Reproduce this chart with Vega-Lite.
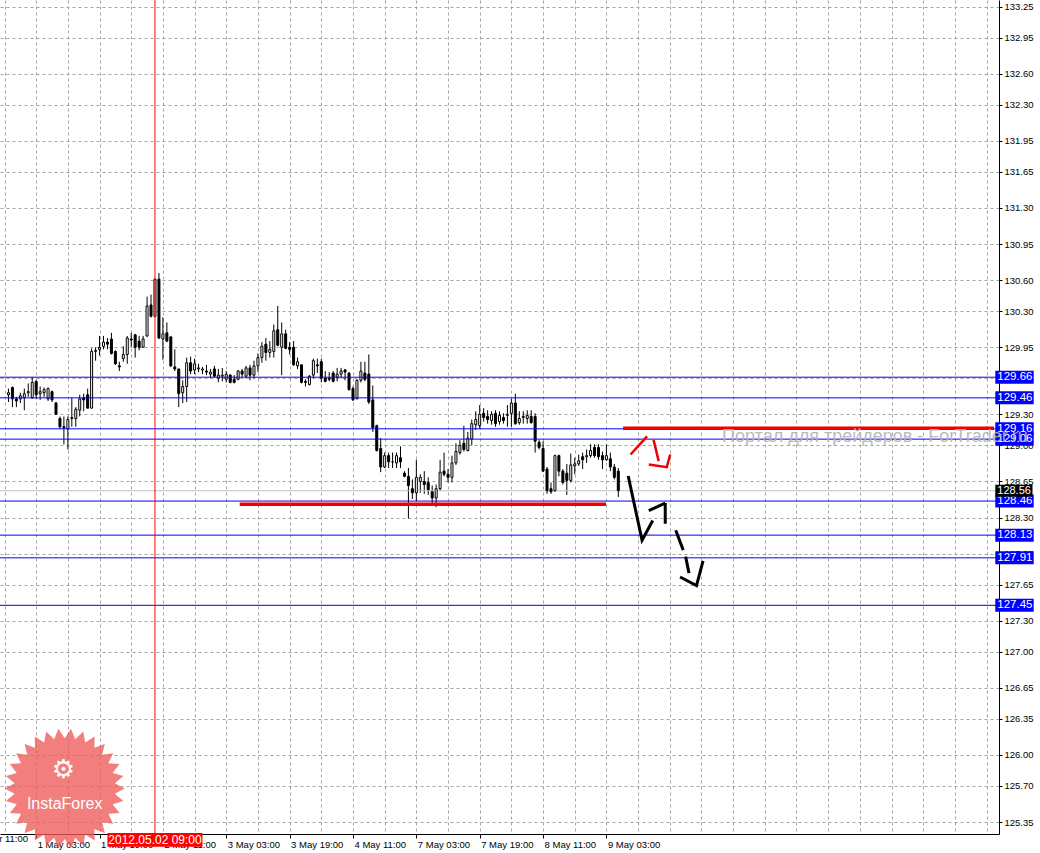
{
  "$schema": "https://vega.github.io/schema/vega-lite/v6.json",
  "width": 999,
  "height": 834,
  "autosize": {"type": "none"},
  "padding": {"left": 0, "top": 0, "right": 41, "bottom": 19},
  "background": "#ffffff",
  "config": {"view": {"stroke": null}},
  "datasets": {
    "candles": [
      {"i":-7,"o":129.49,"h":129.55,"l":129.42,"c":129.51},
      {"i":-6,"o":129.56,"h":129.57,"l":129.37,"c":129.45},
      {"i":-5,"o":129.45,"h":129.47,"l":129.37,"c":129.43},
      {"i":-4,"o":129.45,"h":129.51,"l":129.41,"c":129.48},
      {"i":-3,"o":129.46,"h":129.55,"l":129.34,"c":129.50},
      {"i":-2,"o":129.51,"h":129.60,"l":129.47,"c":129.52},
      {"i":-1,"o":129.46,"h":129.66,"l":129.45,"c":129.61},
      {"i":0,"o":129.62,"h":129.63,"l":129.45,"c":129.49},
      {"i":1,"o":129.50,"h":129.57,"l":129.44,"c":129.52},
      {"i":2,"o":129.51,"h":129.56,"l":129.47,"c":129.54},
      {"i":3,"o":129.45,"h":129.56,"l":129.43,"c":129.55},
      {"i":4,"o":129.52,"h":129.53,"l":129.42,"c":129.44},
      {"i":5,"o":129.41,"h":129.42,"l":129.30,"c":129.30},
      {"i":6,"o":129.26,"h":129.28,"l":129.16,"c":129.18},
      {"i":7,"o":129.18,"h":129.28,"l":129.01,"c":129.17},
      {"i":8,"o":129.16,"h":129.28,"l":128.96,"c":129.25},
      {"i":9,"o":129.26,"h":129.46,"l":129.18,"c":129.27},
      {"i":10,"o":129.26,"h":129.37,"l":129.18,"c":129.35},
      {"i":11,"o":129.34,"h":129.49,"l":129.28,"c":129.45},
      {"i":12,"o":129.46,"h":129.50,"l":129.33,"c":129.44},
      {"i":13,"o":129.49,"h":129.55,"l":129.36,"c":129.36},
      {"i":14,"o":129.36,"h":129.94,"l":129.36,"c":129.91},
      {"i":15,"o":129.91,"h":129.95,"l":129.82,"c":129.92},
      {"i":16,"o":129.93,"h":130.06,"l":129.87,"c":129.95},
      {"i":17,"o":129.96,"h":130.06,"l":129.93,"c":130.00},
      {"i":18,"o":130.00,"h":130.04,"l":129.93,"c":129.98},
      {"i":19,"o":130.03,"h":130.09,"l":129.88,"c":129.89},
      {"i":20,"o":129.91,"h":129.92,"l":129.78,"c":129.79},
      {"i":21,"o":129.77,"h":129.81,"l":129.72,"c":129.76},
      {"i":22,"o":129.84,"h":129.96,"l":129.81,"c":129.88},
      {"i":23,"o":129.88,"h":130.06,"l":129.79,"c":130.04},
      {"i":24,"o":130.03,"h":130.09,"l":129.95,"c":130.02},
      {"i":25,"o":130.07,"h":130.08,"l":129.85,"c":129.95},
      {"i":26,"o":130.01,"h":130.06,"l":129.92,"c":129.95},
      {"i":27,"o":129.95,"h":130.06,"l":129.95,"c":130.03},
      {"i":28,"o":130.06,"h":130.44,"l":130.05,"c":130.35},
      {"i":29,"o":130.36,"h":130.46,"l":130.24,"c":130.25},
      {"i":30,"o":130.25,"h":130.62,"l":130.24,"c":130.61},
      {"i":31,"o":130.61,"h":130.67,"l":130.03,"c":130.04},
      {"i":32,"o":130.03,"h":130.24,"l":129.83,"c":130.08},
      {"i":33,"o":130.09,"h":130.19,"l":130.00,"c":130.01},
      {"i":34,"o":130.05,"h":130.06,"l":129.76,"c":129.77},
      {"i":35,"o":129.76,"h":129.93,"l":129.72,"c":129.74},
      {"i":36,"o":129.74,"h":129.74,"l":129.37,"c":129.50},
      {"i":37,"o":129.51,"h":129.63,"l":129.41,"c":129.57},
      {"i":38,"o":129.57,"h":129.85,"l":129.42,"c":129.80},
      {"i":39,"o":129.80,"h":129.86,"l":129.69,"c":129.72},
      {"i":40,"o":129.73,"h":129.84,"l":129.69,"c":129.79},
      {"i":41,"o":129.74,"h":129.79,"l":129.71,"c":129.75},
      {"i":42,"o":129.73,"h":129.76,"l":129.69,"c":129.74},
      {"i":43,"o":129.72,"h":129.78,"l":129.68,"c":129.71},
      {"i":44,"o":129.69,"h":129.74,"l":129.65,"c":129.71},
      {"i":45,"o":129.74,"h":129.77,"l":129.66,"c":129.67},
      {"i":46,"o":129.65,"h":129.74,"l":129.61,"c":129.68},
      {"i":47,"o":129.67,"h":129.75,"l":129.62,"c":129.68},
      {"i":48,"o":129.64,"h":129.72,"l":129.61,"c":129.69},
      {"i":49,"o":129.68,"h":129.69,"l":129.60,"c":129.61},
      {"i":50,"o":129.64,"h":129.68,"l":129.60,"c":129.61},
      {"i":51,"o":129.64,"h":129.73,"l":129.63,"c":129.72},
      {"i":52,"o":129.72,"h":129.74,"l":129.66,"c":129.69},
      {"i":53,"o":129.67,"h":129.77,"l":129.65,"c":129.75},
      {"i":54,"o":129.75,"h":129.78,"l":129.63,"c":129.68},
      {"i":55,"o":129.68,"h":129.82,"l":129.65,"c":129.77},
      {"i":56,"o":129.77,"h":129.89,"l":129.71,"c":129.85},
      {"i":57,"o":129.85,"h":130.00,"l":129.80,"c":129.96},
      {"i":58,"o":129.98,"h":130.04,"l":129.82,"c":129.90},
      {"i":59,"o":129.90,"h":130.01,"l":129.85,"c":129.93},
      {"i":60,"o":129.91,"h":130.17,"l":129.85,"c":130.11},
      {"i":61,"o":130.12,"h":130.35,"l":129.96,"c":129.97},
      {"i":62,"o":129.95,"h":130.19,"l":129.68,"c":130.08},
      {"i":63,"o":130.08,"h":130.12,"l":129.93,"c":129.94},
      {"i":64,"o":129.95,"h":130.00,"l":129.88,"c":129.93},
      {"i":65,"o":129.95,"h":130.01,"l":129.77,"c":129.78},
      {"i":66,"o":129.77,"h":129.85,"l":129.74,"c":129.81},
      {"i":67,"o":129.78,"h":129.78,"l":129.60,"c":129.61},
      {"i":68,"o":129.62,"h":129.64,"l":129.57,"c":129.61},
      {"i":69,"o":129.59,"h":129.68,"l":129.58,"c":129.67},
      {"i":70,"o":129.68,"h":129.84,"l":129.65,"c":129.82},
      {"i":71,"o":129.78,"h":129.84,"l":129.70,"c":129.77},
      {"i":72,"o":129.81,"h":129.84,"l":129.61,"c":129.65},
      {"i":73,"o":129.65,"h":129.72,"l":129.61,"c":129.62},
      {"i":74,"o":129.65,"h":129.71,"l":129.62,"c":129.64},
      {"i":75,"o":129.70,"h":129.72,"l":129.61,"c":129.62},
      {"i":76,"o":129.66,"h":129.75,"l":129.62,"c":129.69},
      {"i":77,"o":129.69,"h":129.75,"l":129.65,"c":129.72},
      {"i":78,"o":129.73,"h":129.74,"l":129.63,"c":129.71},
      {"i":79,"o":129.70,"h":129.71,"l":129.53,"c":129.54},
      {"i":80,"o":129.55,"h":129.57,"l":129.43,"c":129.44},
      {"i":81,"o":129.45,"h":129.64,"l":129.45,"c":129.63},
      {"i":82,"o":129.63,"h":129.81,"l":129.61,"c":129.72},
      {"i":83,"o":129.70,"h":129.81,"l":129.62,"c":129.64},
      {"i":84,"o":129.69,"h":129.88,"l":129.40,"c":129.42},
      {"i":85,"o":129.44,"h":129.58,"l":129.13,"c":129.17},
      {"i":86,"o":129.19,"h":129.20,"l":128.94,"c":128.95},
      {"i":87,"o":128.97,"h":129.07,"l":128.74,"c":128.79},
      {"i":88,"o":128.79,"h":128.93,"l":128.78,"c":128.90},
      {"i":89,"o":128.90,"h":128.93,"l":128.78,"c":128.84},
      {"i":90,"o":128.84,"h":128.93,"l":128.78,"c":128.84},
      {"i":91,"o":128.83,"h":128.93,"l":128.78,"c":128.90},
      {"i":92,"o":128.88,"h":128.99,"l":128.78,"c":128.84},
      {"i":93,"o":128.73,"h":128.75,"l":128.69,"c":128.70},
      {"i":94,"o":128.70,"h":128.78,"l":128.29,"c":128.61},
      {"i":95,"o":128.58,"h":128.67,"l":128.48,"c":128.54},
      {"i":96,"o":128.54,"h":128.86,"l":128.46,"c":128.69},
      {"i":97,"o":128.65,"h":128.72,"l":128.54,"c":128.69},
      {"i":98,"o":128.65,"h":128.75,"l":128.53,"c":128.62},
      {"i":99,"o":128.64,"h":128.69,"l":128.52,"c":128.57},
      {"i":100,"o":128.55,"h":128.61,"l":128.44,"c":128.49},
      {"i":101,"o":128.49,"h":128.62,"l":128.40,"c":128.58},
      {"i":102,"o":128.58,"h":128.86,"l":128.56,"c":128.74},
      {"i":103,"o":128.75,"h":128.93,"l":128.70,"c":128.72},
      {"i":104,"o":128.72,"h":128.77,"l":128.64,"c":128.69},
      {"i":105,"o":128.69,"h":128.90,"l":128.64,"c":128.83},
      {"i":106,"o":128.83,"h":129.02,"l":128.81,"c":128.94},
      {"i":107,"o":128.93,"h":129.05,"l":128.91,"c":129.00},
      {"i":108,"o":129.02,"h":129.19,"l":128.94,"c":128.96},
      {"i":109,"o":128.95,"h":129.13,"l":128.94,"c":129.07},
      {"i":110,"o":129.06,"h":129.25,"l":129.00,"c":129.21},
      {"i":111,"o":129.20,"h":129.33,"l":129.15,"c":129.25},
      {"i":112,"o":129.19,"h":129.39,"l":129.16,"c":129.30},
      {"i":113,"o":129.31,"h":129.36,"l":129.23,"c":129.27},
      {"i":114,"o":129.28,"h":129.34,"l":129.21,"c":129.25},
      {"i":115,"o":129.24,"h":129.33,"l":129.20,"c":129.30},
      {"i":116,"o":129.31,"h":129.34,"l":129.18,"c":129.21},
      {"i":117,"o":129.23,"h":129.33,"l":129.20,"c":129.29},
      {"i":118,"o":129.27,"h":129.31,"l":129.21,"c":129.24},
      {"i":119,"o":129.29,"h":129.39,"l":129.18,"c":129.30},
      {"i":120,"o":129.31,"h":129.45,"l":129.18,"c":129.41},
      {"i":121,"o":129.41,"h":129.50,"l":129.20,"c":129.21},
      {"i":122,"o":129.22,"h":129.33,"l":129.20,"c":129.26},
      {"i":123,"o":129.27,"h":129.33,"l":129.21,"c":129.28},
      {"i":124,"o":129.26,"h":129.34,"l":129.21,"c":129.29},
      {"i":125,"o":129.28,"h":129.34,"l":129.21,"c":129.22},
      {"i":126,"o":129.28,"h":129.31,"l":128.93,"c":129.04},
      {"i":127,"o":129.03,"h":129.05,"l":128.96,"c":128.98},
      {"i":128,"o":128.97,"h":129.04,"l":128.74,"c":128.75},
      {"i":129,"o":128.77,"h":128.79,"l":128.53,"c":128.56},
      {"i":130,"o":128.58,"h":128.64,"l":128.53,"c":128.55},
      {"i":131,"o":128.56,"h":128.91,"l":128.55,"c":128.90},
      {"i":132,"o":128.90,"h":128.91,"l":128.70,"c":128.75},
      {"i":133,"o":128.75,"h":128.77,"l":128.62,"c":128.64},
      {"i":134,"o":128.73,"h":128.82,"l":128.52,"c":128.66},
      {"i":135,"o":128.66,"h":128.92,"l":128.64,"c":128.81},
      {"i":136,"o":128.80,"h":128.88,"l":128.72,"c":128.82},
      {"i":137,"o":128.82,"h":128.91,"l":128.80,"c":128.85},
      {"i":138,"o":128.89,"h":128.93,"l":128.77,"c":128.86},
      {"i":139,"o":128.89,"h":128.96,"l":128.83,"c":128.90},
      {"i":140,"o":128.90,"h":129.01,"l":128.88,"c":128.95},
      {"i":141,"o":128.98,"h":129.01,"l":128.88,"c":128.90},
      {"i":142,"o":128.98,"h":129.01,"l":128.86,"c":128.89},
      {"i":143,"o":128.90,"h":128.94,"l":128.77,"c":128.86},
      {"i":144,"o":128.86,"h":129.01,"l":128.85,"c":128.90},
      {"i":145,"o":128.87,"h":128.93,"l":128.75,"c":128.79},
      {"i":146,"o":128.79,"h":128.82,"l":128.67,"c":128.69},
      {"i":147,"o":128.75,"h":128.78,"l":128.50,"c":128.56}
    ],
    "levels": [
      {"level":129.66},{"level":129.46},{"level":129.16},{"level":129.06},
      {"level":128.46},{"level":128.13},{"level":127.91},{"level":127.45}
    ],
    "bid": [{"p":128.56}],
    "vline": [{"i":30,"t":"2012.05.02 09:00"}],
    "cutlabel": [{"i":-16,"t":"30 Apr 11:00"}],
    "redlines": [
      {"i1":51.4,"i2":143.9,"p":128.43},
      {"i1":148.2,"i2":241.875,"p":129.165}
    ],
    "redsegs": [
      {"s":1,"i":150.1,"p":128.911},{"s":1,"i":154.25,"p":129.086},
      {"s":2,"i":155.9,"p":129.054},{"s":2,"i":157.2,"p":128.847},
      {"s":3,"i":154.7,"p":128.815},{"s":3,"i":159.25,"p":128.789},{"s":3,"i":160.1,"p":128.911}
    ],
    "blacksegs": [
      {"s":1,"i":149.5,"p":128.703},{"s":1,"i":153.0,"p":128.081},{"s":1,"i":155.7,"p":128.272},
      {"s":2,"i":154.7,"p":128.368},{"s":2,"i":158.85,"p":128.439},
      {"s":3,"i":158.85,"p":128.441},{"s":3,"i":158.86,"p":128.241},
      {"s":4,"i":161.5,"p":128.177},{"s":4,"i":163.4,"p":127.985},
      {"s":5,"i":164.0,"p":127.922},{"s":5,"i":164.85,"p":127.762},
      {"s":6,"i":162.6,"p":127.724},{"s":6,"i":166.75,"p":127.641},{"s":6,"i":168.4,"p":127.88}
    ],
    "watermark": [{"i":173.2,"p":129.083,"t":"Портал для трейдеров - ForTrader.ru"}],
    "logo": [{"i":7.2,"p":125.675}],
    "logotext": [{"i":7.2,"p":125.53,"t":"InstaForex"}],
    "logoicon": [{"i":6.9,"p":125.85,"t":"⚙"}]
  },
  "layer": [
    {
      "data": {"name": "candles"},
      "mark": {"type": "rule", "color": "#000000", "strokeWidth": 1},
      "encoding": {
        "x": {"field": "i", "type": "quantitative",
          "scale": {"domain": [-7.875, 241.875], "nice": false, "zero": false},
          "axis": {
            "orient": "bottom", "title": null,
            "values": [-8,0,8,16,24,32,40,48,56,64,72,80,88,96,104,112,120,128,136,144,152,160,168,176,184,192,200,208,216,224,232,240],
            "tickCount": 200,
            "labelExpr": "datum.value==0?'1 May 03:00':datum.value==16?'1 May 19:00':datum.value==32?'2 May 11:00':datum.value==48?'3 May 03:00':datum.value==64?'3 May 19:00':datum.value==80?'4 May 11:00':datum.value==96?'7 May 03:00':datum.value==112?'7 May 19:00':datum.value==128?'8 May 11:00':datum.value==144?'9 May 03:00':''",
            "grid": true, "gridColor": "#a4a4a4", "gridDash": [3, 3], "gridWidth": 1,
            "domain": true, "domainColor": "#000000", "domainWidth": 1,
            "ticks": true, "tickColor": "#000000", "tickSize": 4, "tickWidth": 1,
            "tickOpacity": {"condition": {"test": "datum.value % 16 == 0 && datum.value <= 144", "value": 1}, "value": 0},
            "labels": true,
            "labelAlign": "left", "labelBaseline": "top", "labelPadding": 1, "labelOffset": 1,
            "labelFont": "Liberation Sans", "labelFontSize": 9.5, "labelColor": "#000000",
            "labelOverlap": false, "labelBound": false, "labelFlush": false
          }
        },
        "y": {"field": "l", "type": "quantitative",
          "scale": {"domain": [125.283, 133.266], "nice": false, "zero": false},
          "axis": {
            "orient": "right", "title": null,
            "values": [125.35,125.70,126.00,126.35,126.65,127.00,127.30,127.65,127.95,128.30,128.65,129.00,129.30,129.65,129.95,130.30,130.60,130.95,131.30,131.65,131.95,132.30,132.60,132.95,133.25],
            "tickCount": 200,
            "format": ".2f",
            "grid": true, "gridColor": "#a4a4a4", "gridDash": [3, 3], "gridWidth": 1,
            "domain": true, "domainColor": "#000000", "domainWidth": 1,
            "ticks": true, "tickColor": "#000000", "tickSize": 3, "tickWidth": 1,
            "labels": true,
            "labelAlign": "left", "labelBaseline": "middle", "labelPadding": 2,
            "labelFont": "Liberation Sans", "labelFontSize": 9.5, "labelColor": "#000000",
            "labelOverlap": false, "labelBound": false, "labelFlush": false
          }
        },
        "y2": {"field": "h"}
      }
    },
    {
      "data": {"name": "bid"},
      "mark": {"type": "rule", "color": "#c0c0c0", "strokeWidth": 1},
      "encoding": {
        "y": {"field": "p", "type": "quantitative", "scale": {"domain": [125.283, 133.266], "nice": false, "zero": false}}
      }
    },
    {
      "data": {"name": "candles"},
      "mark": {"type": "bar", "width": 2, "stroke": "#000000", "strokeWidth": 1},
      "encoding": {
        "x": {"field": "i", "type": "quantitative", "scale": {"domain": [-7.875, 241.875], "nice": false, "zero": false}},
        "y": {"field": "o", "type": "quantitative", "scale": {"domain": [125.283, 133.266], "nice": false, "zero": false}},
        "y2": {"field": "c"},
        "fill": {"condition": {"test": "datum.c > datum.o", "value": "#ffffff"}, "value": "#000000"}
      }
    },
    {
      "data": {"name": "levels"},
      "mark": {"type": "rule", "color": "#0000ff", "strokeWidth": 1},
      "encoding": {
        "y": {"field": "level", "type": "quantitative", "scale": {"domain": [125.283, 133.266], "nice": false, "zero": false}}
      }
    },
    {
      "data": {"name": "vline"},
      "mark": {"type": "rule", "color": "#ff0000", "strokeWidth": 1},
      "encoding": {
        "x": {"field": "i", "type": "quantitative", "scale": {"domain": [-7.875, 241.875], "nice": false, "zero": false}}
      }
    },
    {
      "data": {"name": "redlines"},
      "mark": {"type": "rule", "color": "#f00000", "strokeWidth": 3.5},
      "encoding": {
        "x": {"field": "i1", "type": "quantitative", "scale": {"domain": [-7.875, 241.875], "nice": false, "zero": false}},
        "x2": {"field": "i2"},
        "y": {"field": "p", "type": "quantitative", "scale": {"domain": [125.283, 133.266], "nice": false, "zero": false}}
      }
    },
    {
      "data": {"name": "redsegs"},
      "mark": {"type": "line", "color": "#f00000", "strokeWidth": 2.5, "strokeCap": "butt", "strokeJoin": "miter"},
      "encoding": {
        "x": {"field": "i", "type": "quantitative", "scale": {"domain": [-7.875, 241.875], "nice": false, "zero": false}},
        "y": {"field": "p", "type": "quantitative", "scale": {"domain": [125.283, 133.266], "nice": false, "zero": false}},
        "detail": {"field": "s"}
      }
    },
    {
      "data": {"name": "blacksegs"},
      "mark": {"type": "line", "color": "#000000", "strokeWidth": 3, "strokeCap": "butt", "strokeJoin": "miter"},
      "encoding": {
        "x": {"field": "i", "type": "quantitative", "scale": {"domain": [-7.875, 241.875], "nice": false, "zero": false}},
        "y": {"field": "p", "type": "quantitative", "scale": {"domain": [125.283, 133.266], "nice": false, "zero": false}},
        "detail": {"field": "s"}
      }
    },
    {
      "data": {"name": "cutlabel"},
      "mark": {"type": "text", "align": "left", "baseline": "top", "dx": 2, "font": "Liberation Sans", "fontSize": 9.5, "color": "#000000"},
      "encoding": {
        "x": {"field": "i", "type": "quantitative", "scale": {"domain": [-7.875, 241.875], "nice": false, "zero": false}},
        "y": {"datum": 125.235, "type": "quantitative", "scale": {"domain": [125.283, 133.266], "nice": false, "zero": false}},
        "text": {"field": "t"}
      }
    },
    {
      "data": {"name": "logo"},
      "mark": {"type": "point", "filled": true, "size": 14400, "fill": "#ee5a5a", "opacity": 0.78, "strokeWidth": 0,
        "shape": "M1,0L0.835,0.088L0.978,0.208L0.799,0.26L0.914,0.407L0.727,0.42L0.809,0.588L0.624,0.562L0.669,0.743L0.494,0.68L0.5,0.866L0.342,0.767L0.309,0.951L0.175,0.822L0.105,0.995L0,0.84L-0.105,0.995L-0.175,0.822L-0.309,0.951L-0.342,0.767L-0.5,0.866L-0.494,0.68L-0.669,0.743L-0.624,0.562L-0.809,0.588L-0.727,0.42L-0.914,0.407L-0.799,0.26L-0.978,0.208L-0.835,0.088L-1,0L-0.835,-0.088L-0.978,-0.208L-0.799,-0.26L-0.914,-0.407L-0.727,-0.42L-0.809,-0.588L-0.624,-0.562L-0.669,-0.743L-0.494,-0.68L-0.5,-0.866L-0.342,-0.767L-0.309,-0.951L-0.175,-0.822L-0.105,-0.995L0,-0.84L0.105,-0.995L0.175,-0.822L0.309,-0.951L0.342,-0.767L0.5,-0.866L0.494,-0.68L0.669,-0.743L0.624,-0.562L0.809,-0.588L0.727,-0.42L0.914,-0.407L0.799,-0.26L0.978,-0.208L0.835,-0.088Z"},
      "encoding": {
        "x": {"field": "i", "type": "quantitative", "scale": {"domain": [-7.875, 241.875], "nice": false, "zero": false}},
        "y": {"field": "p", "type": "quantitative", "scale": {"domain": [125.283, 133.266], "nice": false, "zero": false}}
      }
    },
    {
      "data": {"name": "logoicon"},
      "mark": {"type": "text", "align": "center", "baseline": "middle", "font": "DejaVu Sans", "fontSize": 26, "color": "#ffffff"},
      "encoding": {
        "x": {"field": "i", "type": "quantitative", "scale": {"domain": [-7.875, 241.875], "nice": false, "zero": false}},
        "y": {"field": "p", "type": "quantitative", "scale": {"domain": [125.283, 133.266], "nice": false, "zero": false}},
        "text": {"field": "t"}
      }
    },
    {
      "data": {"name": "logotext"},
      "mark": {"type": "text", "align": "center", "baseline": "middle", "font": "Liberation Sans", "fontSize": 16, "color": "#ffffff"},
      "encoding": {
        "x": {"field": "i", "type": "quantitative", "scale": {"domain": [-7.875, 241.875], "nice": false, "zero": false}},
        "y": {"field": "p", "type": "quantitative", "scale": {"domain": [125.283, 133.266], "nice": false, "zero": false}},
        "text": {"field": "t"}
      }
    },
    {
      "data": {"name": "levels"},
      "transform": [{"filter": "datum.level != 129.06"}],
      "mark": {"type": "bar", "height": 13, "fill": "#0000ff"},
      "encoding": {
        "x": {"datum": 242.2, "type": "quantitative", "scale": {"domain": [-7.875, 241.875], "nice": false, "zero": false}},
        "x2": {"datum": 251.9},
        "y": {"field": "level", "type": "quantitative", "scale": {"domain": [125.283, 133.266], "nice": false, "zero": false}}
      }
    },
    {
      "data": {"name": "levels"},
      "transform": [{"filter": "datum.level != 129.06"}],
      "mark": {"type": "text", "align": "left", "baseline": "middle", "font": "Liberation Sans", "fontSize": 11.5, "color": "#ffffff"},
      "encoding": {
        "x": {"datum": 242.7, "type": "quantitative", "scale": {"domain": [-7.875, 241.875], "nice": false, "zero": false}},
        "y": {"field": "level", "type": "quantitative", "scale": {"domain": [125.283, 133.266], "nice": false, "zero": false}},
        "text": {"field": "level", "type": "quantitative", "format": ".2f"}
      }
    },
    {
      "data": {"name": "levels"},
      "transform": [{"filter": "datum.level == 129.06"}],
      "mark": {"type": "bar", "height": 13, "fill": "#0000ff"},
      "encoding": {
        "x": {"datum": 242.2, "type": "quantitative", "scale": {"domain": [-7.875, 241.875], "nice": false, "zero": false}},
        "x2": {"datum": 251.9},
        "y": {"field": "level", "type": "quantitative", "scale": {"domain": [125.283, 133.266], "nice": false, "zero": false}}
      }
    },
    {
      "data": {"name": "levels"},
      "transform": [{"filter": "datum.level == 129.06"}],
      "mark": {"type": "text", "align": "left", "baseline": "middle", "font": "Liberation Sans", "fontSize": 11.5, "color": "#ffffff"},
      "encoding": {
        "x": {"datum": 242.7, "type": "quantitative", "scale": {"domain": [-7.875, 241.875], "nice": false, "zero": false}},
        "y": {"field": "level", "type": "quantitative", "scale": {"domain": [125.283, 133.266], "nice": false, "zero": false}},
        "text": {"field": "level", "type": "quantitative", "format": ".2f"}
      }
    },
    {
      "data": {"name": "watermark"},
      "mark": {"type": "text", "align": "left", "baseline": "middle", "font": "Liberation Sans", "fontSize": 18, "color": "#b4b4b4", "opacity": 0.9},
      "encoding": {
        "x": {"field": "i", "type": "quantitative", "scale": {"domain": [-7.875, 241.875], "nice": false, "zero": false}},
        "y": {"field": "p", "type": "quantitative", "scale": {"domain": [125.283, 133.266], "nice": false, "zero": false}},
        "text": {"field": "t"}
      }
    },
    {
      "data": {"name": "bid"},
      "mark": {"type": "bar", "height": 12, "fill": "#000000"},
      "encoding": {
        "x": {"datum": 242.2, "type": "quantitative", "scale": {"domain": [-7.875, 241.875], "nice": false, "zero": false}},
        "x2": {"datum": 251.6},
        "y": {"field": "p", "type": "quantitative", "scale": {"domain": [125.283, 133.266], "nice": false, "zero": false}}
      }
    },
    {
      "data": {"name": "bid"},
      "mark": {"type": "text", "align": "left", "baseline": "middle", "font": "Liberation Sans", "fontSize": 11, "color": "#ffffff"},
      "encoding": {
        "x": {"datum": 242.7, "type": "quantitative", "scale": {"domain": [-7.875, 241.875], "nice": false, "zero": false}},
        "y": {"field": "p", "type": "quantitative", "scale": {"domain": [125.283, 133.266], "nice": false, "zero": false}},
        "text": {"field": "p", "type": "quantitative", "format": ".2f"}
      }
    },
    {
      "data": {"name": "vline"},
      "mark": {"type": "bar", "width": 95, "fill": "#ff0000"},
      "encoding": {
        "x": {"field": "i", "type": "quantitative", "scale": {"domain": [-7.875, 241.875], "nice": false, "zero": false}},
        "y": {"datum": 125.111, "type": "quantitative", "scale": {"domain": [125.283, 133.266], "nice": false, "zero": false}},
        "y2": {"datum": 125.245}
      }
    },
    {
      "data": {"name": "vline"},
      "mark": {"type": "text", "align": "center", "baseline": "middle", "font": "Liberation Sans", "fontSize": 12, "color": "#ffffff"},
      "encoding": {
        "x": {"field": "i", "type": "quantitative", "scale": {"domain": [-7.875, 241.875], "nice": false, "zero": false}},
        "y": {"datum": 125.178, "type": "quantitative", "scale": {"domain": [125.283, 133.266], "nice": false, "zero": false}},
        "text": {"field": "t"}
      }
    }
  ]
}
